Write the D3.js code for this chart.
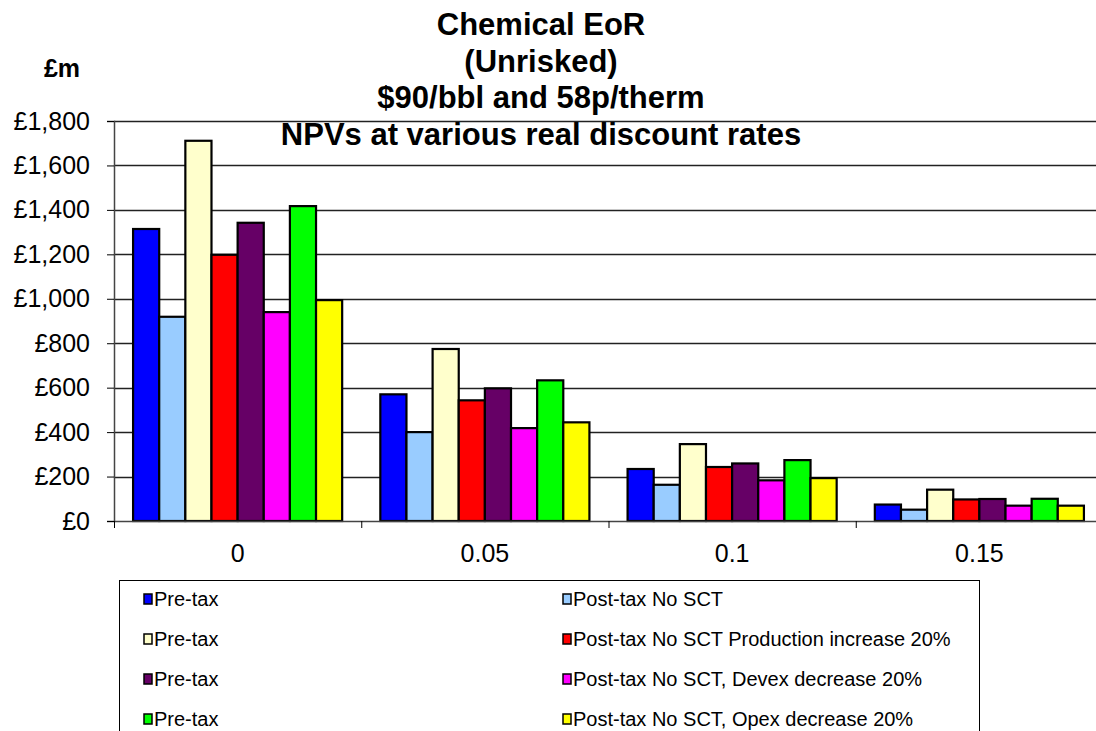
<!DOCTYPE html>
<html>
<head>
<meta charset="utf-8">
<script src="https://cdn.jsdelivr.net/npm/d3@7"></script>
<style>
  html, body { margin: 0; padding: 0; background: #fff; }
  svg { display: block; font-family: Arial, "Liberation Sans", sans-serif; }
</style>
</head>
<body>
<svg id="chart" width="1096" height="731"></svg>
<script>
// ---- data ----
const categories = ["0", "0.05", "0.1", "0.15"];
const seriesNames = [
  "Pre-tax",
  "Post-tax No SCT",
  "Pre-tax",
  "Post-tax No SCT Production increase 20%",
  "Pre-tax",
  "Post-tax No SCT, Devex decrease 20%",
  "Pre-tax",
  "Post-tax No SCT, Opex decrease 20%"
];
const seriesColors = ["#0000FF", "#99CCFF", "#FFFFCC", "#FF0000", "#660066", "#FF00FF", "#00FF00", "#FFFF00"];
const s1 = [1314, 570, 234, 74];
const s2 = [919, 400, 163, 51];
const s3 = [1711, 774, 346, 141];
const s4 = [1198, 543, 243, 97];
const s5 = [1342, 597, 259, 99];
const s6 = [940, 418, 183, 69];
const s7 = [1417, 633, 274, 100];
const s8 = [994, 444, 193, 69];
const seriesValues = [s1, s2, s3, s4, s5, s6, s7, s8];
const yTicks = [0, 200, 400, 600, 800, 1000, 1200, 1400, 1600, 1800];
const titleLines = ["Chemical EoR", "(Unrisked)", "$90/bbl and 58p/therm", "NPVs at various real discount rates"];

// ---- layout ----
const svg = d3.select("#chart");
const plot = { left: 114, right: 1103, top: 121, bottom: 521 };

const x0 = d3.scaleBand().domain(categories).range([plot.left, plot.right]).paddingInner(0).paddingOuter(0);
const x1 = d3.scaleBand().domain(d3.range(seriesNames.length)).range([0, x0.bandwidth()]).paddingInner(0).paddingOuter(0.73);
const y = d3.scaleLinear().domain([0, 1800]).range([plot.bottom, plot.top]);

// gridlines
svg.append("g").selectAll("line").data(yTicks.filter(d => d > 0)).join("line")
  .attr("x1", plot.left).attr("x2", plot.right)
  .attr("y1", d => Math.round(y(d)) + 0.5).attr("y2", d => Math.round(y(d)) + 0.5)
  .attr("stroke", "#222").attr("stroke-width", 1.4);

// bars
const groups = svg.append("g").selectAll("g").data(categories).join("g")
  .attr("transform", d => `translate(${x0(d)},0)`);
groups.selectAll("rect").data((c, ci) => seriesValues.map((vals, si) => ({ si, v: vals[ci] }))).join("rect")
  .attr("x", d => x1(d.si))
  .attr("width", x1.bandwidth())
  .attr("y", d => y(d.v))
  .attr("height", d => y(0) - y(d.v))
  .attr("fill", d => seriesColors[d.si])
  .attr("stroke", "#000").attr("stroke-width", 2.2);

// y axis
const yAxis = d3.axisLeft(y).tickValues(yTicks).tickSize(7).tickPadding(17)
  .tickFormat(d => "£" + d3.format(",")(d));
const gy = svg.append("g").attr("transform", `translate(${plot.left},0)`).call(yAxis);
gy.select(".domain").attr("stroke", "#444").attr("stroke-width", 1.5);
gy.selectAll(".tick line").attr("stroke", "#000");
gy.selectAll("text").attr("font-size", 25).attr("fill", "#000").attr("font-family", "Arial, 'Liberation Sans', sans-serif");

// x axis
const xAxis = d3.axisBottom(x0).tickSize(0).tickPadding(23);
const gx = svg.append("g").attr("transform", `translate(0,${plot.bottom})`).call(xAxis);
gx.select(".domain").attr("stroke", "#444").attr("stroke-width", 1.5);
gx.selectAll("text").attr("font-size", 25).attr("fill", "#000").attr("font-family", "Arial, 'Liberation Sans', sans-serif");
// category boundary ticks
gx.append("g").selectAll("line").data(categories).join("line")
  .attr("x1", d => x0(d) + 0.5).attr("x2", d => x0(d) + 0.5)
  .attr("y1", 0).attr("y2", 7).attr("stroke", "#000");

// title
svg.append("g").selectAll("text").data(titleLines).join("text")
  .attr("x", 541).attr("y", (d, i) => 35 + i * 36.7)
  .attr("text-anchor", "middle").attr("font-weight", "bold").attr("font-size", 31)
  .attr("fill", "#000").text(d => d);

// unit label
svg.append("text").attr("x", 62).attr("y", 77).attr("text-anchor", "middle")
  .attr("font-weight", "bold").attr("font-size", 25).text("£m");

// legend
const leg = svg.append("g");
leg.append("rect").attr("x", 119.5).attr("y", 580.5).attr("width", 860).attr("height", 200)
  .attr("fill", "#fff").attr("stroke", "#000").attr("stroke-width", 1);
const colX = [144, 563];
const items = leg.selectAll("g.item").data(seriesNames).join("g").attr("class", "item")
  .attr("transform", (d, i) => `translate(${colX[i % 2]},${599 + Math.floor(i / 2) * 40})`);
items.append("rect").attr("x", 0).attr("y", -5).attr("width", 8).attr("height", 10)
  .attr("fill", (d, i) => seriesColors[i]).attr("stroke", "#000").attr("stroke-width", 1.5);
items.append("text").attr("x", 10).attr("y", 7).attr("font-size", 20).attr("fill", "#000").text(d => d);
</script>
</body>
</html>
